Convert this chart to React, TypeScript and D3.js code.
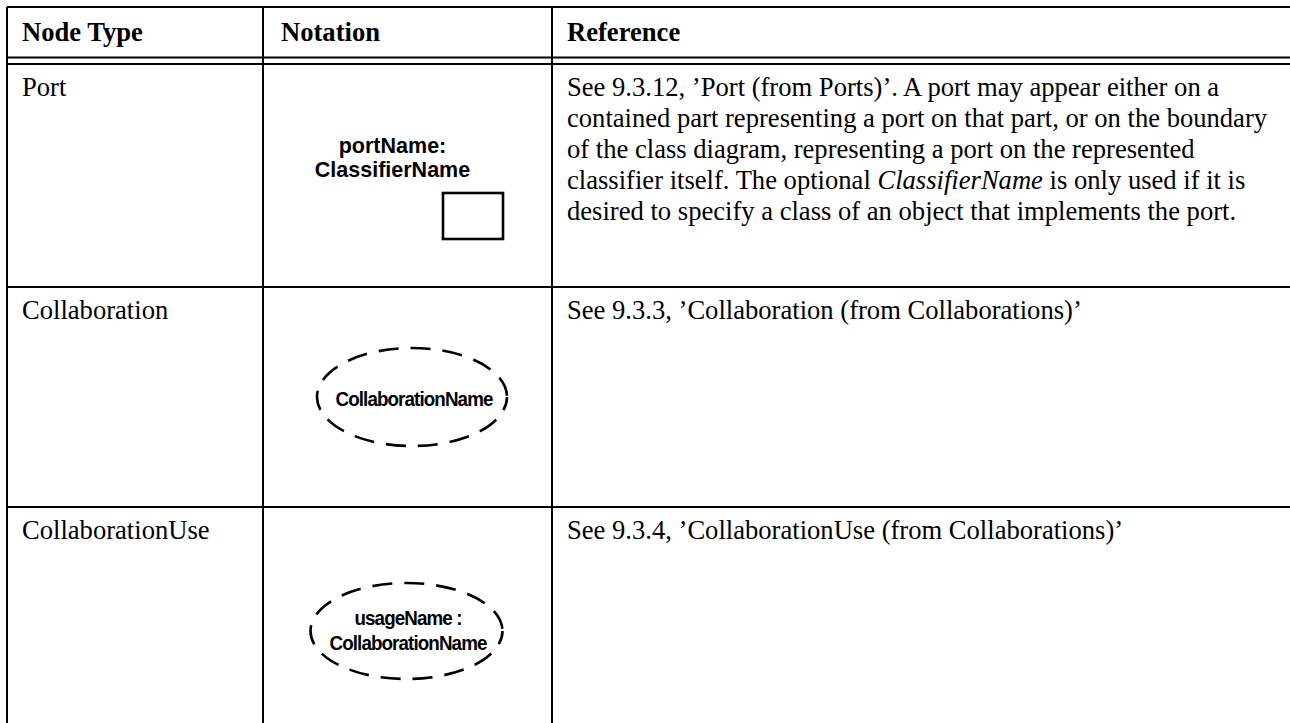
import React, { useEffect } from 'react';
import * as d3 from 'd3';

// table content
const headers = ['Node Type', 'Notation', 'Reference'];
const nodeTypes = ['Port', 'Collaboration', 'CollaborationUse'];
const portLabel = ['portName:', 'ClassifierName'];
const collabLabel = ['CollaborationName'];
const collabUseLabel = ['usageName :', 'CollaborationName'];
// reference text, one entry per line; [text, italic] pieces
const portRef = [
  [['See 9.3.12, ’Port (from Ports)’. A port may appear either on a', false]],
  [['contained part representing a port on that part, or on the boundary', false]],
  [['of the class diagram, representing a port on the represented', false]],
  [['classifier itself. The optional ', false], ['ClassifierName', true], [' is only used if it is', false]],
  [['desired to specify a class of an object that implements the port.', false]],
];
const collabRef = [[['See 9.3.3, ’Collaboration (from Collaborations)’', false]]];
const collabUseRef = [[['See 9.3.4, ’CollaborationUse (from Collaborations)’', false]]];
const references = [portRef, collabRef, collabUseRef];

const W = 1290, H = 723;
const serif = '"Liberation Serif", "Times New Roman", serif';
const sans = '"Liberation Sans", Arial, sans-serif';

export default function App() {
  useEffect(() => {
    document.body.style.margin = '0';
  }, []);

  // column edges and row tops
  const colX = d3.scaleOrdinal<string, number>().domain(headers).range([7, 263, 552]);
  const rowY = d3.scaleOrdinal<string, number>().domain(nodeTypes).range([64, 287, 507]);
  const lineY = d3.scaleLinear().domain([0, 1]).range([0, 31]);

  const notationX = (colX('Notation') + colX('Reference')) / 2;
  const textX = (h: string) => colX(h) + (h === 'Notation' ? 18 : 15);

  const hLines = [7, 57.5, 64, ...nodeTypes.slice(1).map(n => rowY(n))];
  const vLines = headers.map(h => colX(h));

  const dash = '20 12';

  return (
    <svg width={W} height={H} style={{ display: 'block', background: '#fff' }}>
      <g stroke="#000" strokeWidth={2}>
        {hLines.map((y, i) => (
          <line key={'h' + i} x1={colX('Node Type')} x2={W} y1={y} y2={y}
            strokeWidth={i === 1 || i === 2 ? 1.8 : 2} />
        ))}
        {vLines.map((x, i) => (
          <line key={'v' + i} x1={x} x2={x} y1={7} y2={H} />
        ))}
      </g>

      {headers.map(h => (
        <text key={h} x={textX(h)} y={41} fontFamily={serif} fontWeight="bold" fontSize={26.6}>{h}</text>
      ))}

      {nodeTypes.map(n => (
        <text key={n} x={textX('Node Type')} y={rowY(n) + 32} fontFamily={serif} fontSize={26.6}>{n}</text>
      ))}

      {references.map((lines, r) => (
        <text key={'ref' + r} fontFamily={serif} fontSize={26.6}>
          {lines.map((pieces, i) => (
            <tspan key={i} x={textX('Reference')} y={rowY(nodeTypes[r]) + 32 + lineY(i)}>
              {pieces.map(([t, it], j) => (
                <tspan key={j} fontStyle={it ? 'italic' : 'normal'}>{t as string}</tspan>
              ))}
            </tspan>
          ))}
        </text>
      ))}

      {/* Port notation */}
      <g>
        {portLabel.map((t, i) => (
          <text key={t} x={notationX - 15} y={rowY('Port') + 89 + i * 24} textAnchor="middle"
            fontFamily={sans} fontWeight="bold" fontSize={21.5}>{t}</text>
        ))}
        <rect x={notationX + 35.5} y={rowY('Port') + 129} width={60} height={46}
          fill="none" stroke="#000" strokeWidth={2.6} />
      </g>

      {/* Collaboration notation */}
      <g>
        <ellipse cx={notationX + 4.5} cy={rowY('Collaboration') + 110} rx={95} ry={49}
          fill="none" stroke="#000" strokeWidth={2.6} strokeDasharray={dash} strokeDashoffset={6} />
        {collabLabel.map(t => (
          <text key={t} x={notationX + 6.5} y={rowY('Collaboration') + 119} textAnchor="middle"
            fontFamily={sans} fontWeight="bold" fontSize={21} letterSpacing={-1}
            textLength={157} lengthAdjust="spacingAndGlyphs">{t}</text>
        ))}
      </g>

      {/* CollaborationUse notation */}
      <g>
        <ellipse cx={notationX - 1} cy={rowY('CollaborationUse') + 124} rx={96} ry={48}
          fill="none" stroke="#000" strokeWidth={2.6} strokeDasharray={dash} strokeDashoffset={6} />
        {collabUseLabel.map((t, i) => (
          <text key={t + i} x={notationX + 0.5} y={rowY('CollaborationUse') + 118 + i * 25} textAnchor="middle"
            fontFamily={sans} fontWeight="bold" fontSize={21} letterSpacing={-1}
            textLength={i === 0 ? 107 : 157} lengthAdjust="spacingAndGlyphs">{t}</text>
        ))}
      </g>
    </svg>
  );
}
